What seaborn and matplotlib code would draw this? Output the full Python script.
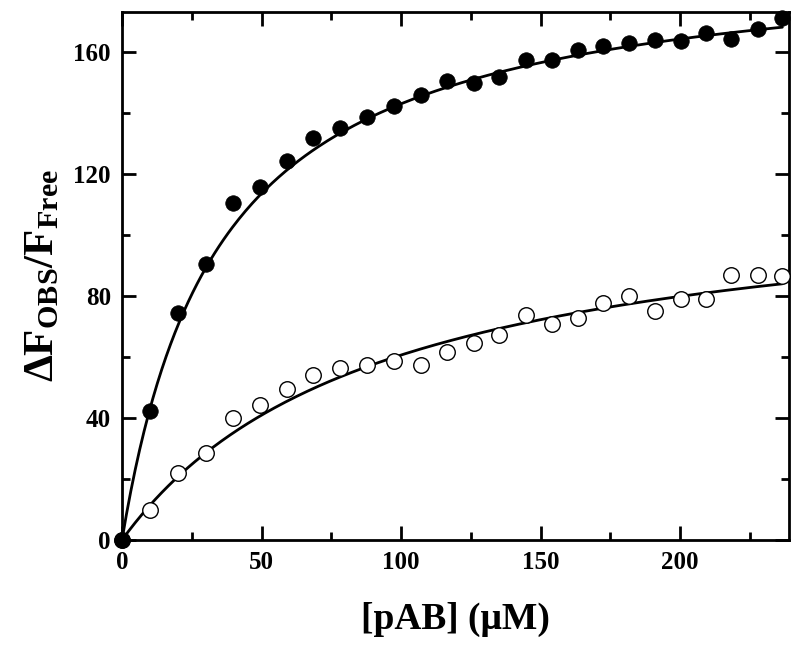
import numpy as np
import pandas as pd
import matplotlib
matplotlib.use('Agg')
import matplotlib.pyplot as plt
from matplotlib.ticker import MultipleLocator
import seaborn as sns

# titration points
pab_conc = [0, 10, 20, 30, 39.6, 49.3, 59.1, 68.6, 78.2, 87.8, 97.4, 107, 116.3,
            126, 135.2, 144.8, 154.1, 163.3, 172.4, 181.8, 191, 200.2, 209.4,
            218.2, 227.7, 236.6]
filled_signal = [0, 42.3, 74.4, 90.4, 110.4, 115.5, 124.3, 131.8, 135.0, 138.5,
                 142.3, 145.7, 150.3, 149.7, 151.8, 157.4, 157.4, 160.7, 161.7,
                 162.8, 163.7, 163.4, 166.1, 164.2, 167.4, 171.1]
open_signal = [0, 9.8, 22.1, 28.6, 39.9, 44.3, 49.6, 54.1, 56.5, 57.4, 58.7,
               57.2, 61.7, 64.7, 67.1, 73.8, 70.7, 72.6, 77.8, 79.8, 75.1, 79.1,
               78.9, 86.9, 86.9, 86.6]

# hyperbolic binding fits  y = Bmax * x / (Kd + x)
filled_fit = {'bmax': 192.8, 'kd': 34.9}
open_fit = {'bmax': 116.9, 'kd': 92.9}
fit_xmax = 236.6

sns.set_style('ticks')
plt.rcParams['font.family'] = ['Liberation Serif', 'DejaVu Serif']
plt.rcParams['font.weight'] = 'bold'
plt.rcParams['mathtext.fontset'] = 'custom'
plt.rcParams['mathtext.rm'] = 'Liberation Serif:bold'
plt.rcParams['mathtext.it'] = 'Liberation Serif:bold'
plt.rcParams['mathtext.bf'] = 'Liberation Serif:bold'
for key in ['text.color', 'axes.labelcolor', 'axes.edgecolor',
            'xtick.color', 'ytick.color']:
    plt.rcParams[key] = 'black'

df = pd.DataFrame({'x': pab_conc, 'filled': filled_signal, 'open': open_signal})
xs = np.linspace(0, fit_xmax, 300)
fit_df = pd.DataFrame({
    'x': xs,
    'filled': filled_fit['bmax'] * xs / (filled_fit['kd'] + xs),
    'open': open_fit['bmax'] * xs / (open_fit['kd'] + xs),
})

fig = plt.figure(figsize=(8, 6.48), dpi=100)
ax = fig.add_axes([0.1525, 0.1667, 0.8338, 0.8148])

sns.lineplot(data=fit_df, x='x', y='filled', color='black', linewidth=2, ax=ax)
sns.lineplot(data=fit_df, x='x', y='open', color='black', linewidth=2, ax=ax)
sns.scatterplot(data=df, x='x', y='open', s=125, facecolor='white',
                edgecolor='black', linewidth=1.0, ax=ax, zorder=3, clip_on=False)
sns.scatterplot(data=df, x='x', y='filled', s=125, color='black',
                edgecolor='black', linewidth=0.5, ax=ax, zorder=4, clip_on=False)

ax.set_xlim(0, 239)
ax.set_ylim(0, 173)
ax.xaxis.set_major_locator(MultipleLocator(50))
ax.xaxis.set_minor_locator(MultipleLocator(25))
ax.yaxis.set_major_locator(MultipleLocator(40))
ax.yaxis.set_minor_locator(MultipleLocator(20))
ax.tick_params(which='major', direction='in', length=10, width=2,
               labelsize=18, top=True, right=True, pad=8)
ax.tick_params(which='minor', direction='in', length=6, width=2,
               top=True, right=True)
for side in ['left', 'right', 'top', 'bottom']:
    ax.spines[side].set_linewidth(2)
    ax.spines[side].set_visible(True)
for lab in ax.get_xticklabels() + ax.get_yticklabels():
    lab.set_fontweight('bold')

ax.set_xlabel('[pAB] (μM)', fontsize=27, fontweight='bold', labelpad=20)
ax.set_ylabel(r'$\mathrm{ΔF_{OBS}/F_{Free}}$', fontsize=31, labelpad=8)

fig.savefig('out.png', dpi=100)
